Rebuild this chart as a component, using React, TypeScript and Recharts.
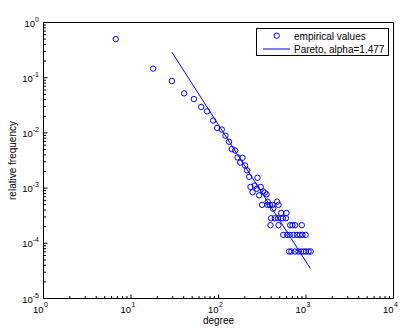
import React from "react";
import {
  ScatterChart,
  Scatter,
  XAxis,
  YAxis,
  Legend,
  ReferenceArea,
} from "recharts";

// empirical histogram of degrees
const degrees = [
  6.7, 17.9, 29.3, 40.5, 52.3, 63.4, 74, 86.8, 96.4, 109, 120, 132, 142, 155,
  165, 188, 177, 201, 212, 224, 279, 260, 232, 304, 245, 274, 324, 338, 291,
  354, 315, 363, 386, 414, 485, 365, 468, 421, 520, 598, 400, 440, 480, 520,
  545, 590, 393, 485, 660, 700, 750, 895, 550, 610, 650, 720, 790, 850, 910,
  990, 640, 680, 750, 820, 880, 940, 1000, 1070, 1130,
];
const frequencies = [
  0.5, 0.146, 0.087, 0.052, 0.041, 0.0295, 0.0246, 0.0167, 0.0123, 0.0115,
  0.0089, 0.0069, 0.0051, 0.0048, 0.0036, 0.00355, 0.0029, 0.00257, 0.0021,
  0.0016, 0.00154, 0.00111, 0.00105, 0.00105, 0.00084, 0.00097, 0.00087,
  0.00083, 0.00074, 0.00077, 0.000497, 0.000497, 0.000497, 0.000497, 0.000497,
  0.000568, 0.000568, 0.000426, 0.000355, 0.000355, 0.000284, 0.000284,
  0.000284, 0.000284, 0.000284, 0.000284, 0.000213, 0.000213, 0.000213,
  0.000213, 0.000213, 0.000213, 0.000142, 0.000142, 0.000142, 0.000142,
  0.000142, 0.000142, 0.000142, 0.000142, 0.000071, 0.000071, 0.000071,
  0.000071, 0.000071, 0.000071, 0.000071, 0.000071, 0.000071,
];

// fitted Pareto line, alpha = 1.477
const paretoX = [29.3, 1125];
const paretoY = [0.291, 3.48e-5];

const xMajor = [1, 10, 100, 1000, 10000];
const yMajor = [1e-5, 1e-4, 1e-3, 1e-2, 1e-1, 1];

const empirical = degrees.map((x, i) => ({ x, y: frequencies[i] }));
const pareto = paretoX.map((x, i) => ({ x, y: paretoY[i] }));

// majors plus 2..9 minors between them
const withMinors = (majors: number[]) => {
  const out: number[] = [];
  majors.forEach((m, i) => {
    out.push(m);
    if (i < majors.length - 1) {
      for (let k = 2; k <= 9; k++) out.push(m * k);
    }
  });
  return out;
};
const xTicks = withMinors(xMajor);
const yTicks = withMinors(yMajor);

const BLUE = "#0000ff";
const FONT = "'Liberation Sans', Arial, sans-serif";

const isMajor = (v: number) => {
  const l = Math.log10(v);
  return Math.abs(l - Math.round(l)) < 1e-6;
};
const expOf = (v: number) => Math.round(Math.log10(v));

const BottomTick = (props: any) => {
  const { x, y, payload } = props;
  const major = isMajor(payload.value);
  return (
    <g>
      <line x1={x} x2={x} y1={y} y2={y - (major ? 4 : 2.5)} stroke="#000" />
      {major && (
        <g fontFamily={FONT} fill="#000">
          <text x={x} y={y + 14} textAnchor="end" fontSize={9.5}>
            10
          </text>
          <text x={x + 0.5} y={y + 8} textAnchor="start" fontSize={7}>
            {expOf(payload.value)}
          </text>
        </g>
      )}
    </g>
  );
};

const TopTick = (props: any) => {
  const { x, y, payload } = props;
  const major = isMajor(payload.value);
  return (
    <line x1={x} x2={x} y1={y} y2={y + (major ? 4 : 2.5)} stroke="#000" />
  );
};

const LeftTick = (props: any) => {
  const { x, y, payload } = props;
  const major = isMajor(payload.value);
  return (
    <g>
      <line x1={x} x2={x + (major ? 4 : 2.5)} y1={y} y2={y} stroke="#000" />
      {major && (
        <text
          x={x - 4.5}
          y={y + 4}
          textAnchor="end"
          fontFamily={FONT}
          fontSize={9.5}
          fill="#000"
        >
          <tspan>10</tspan>
          <tspan dy={-5} fontSize={7}>
            {String(expOf(payload.value))}
          </tspan>
        </text>
      )}
    </g>
  );
};

const RightTick = (props: any) => {
  const { x, y, payload } = props;
  const major = isMajor(payload.value);
  return (
    <line x1={x} x2={x - (major ? 4 : 2.5)} y1={y} y2={y} stroke="#000" />
  );
};

const Circle = (props: any) => (
  <circle cx={props.cx} cy={props.cy} r={2.7} fill="none" stroke={BLUE} />
);

const LegendBox = () => (
  <svg width={133} height={28} style={{ display: "block" }}>
    <rect x={0.5} y={0.5} width={132} height={27} fill="#fff" stroke="#000" />
    <circle cx={20.7} cy={7.7} r={2.7} fill="none" stroke={BLUE} />
    <line x1={7} x2={34} y1={21} y2={21} stroke={BLUE} />
    <g fontFamily={FONT} fontSize={10} fill="#000">
      <text x={38} y={12}>
        empirical values
      </text>
      <text x={38} y={24.5}>
        Pareto, alpha=1.477
      </text>
    </g>
  </svg>
);

const labelStyle = { fontSize: 10, fill: "#000", fontFamily: FONT };

export default function App() {
  return (
    <div style={{ position: "absolute", left: 0, top: 0, background: "#fff" }}>
      <ScatterChart
        width={402}
        height={328}
        margin={{ top: 22.5, right: 8.5, bottom: 0, left: 0 }}
      >
        <XAxis
          xAxisId="bottom"
          dataKey="x"
          type="number"
          scale="log"
          domain={[1, 10000]}
          allowDataOverflow
          ticks={xTicks}
          interval={0}
          height={29.5}
          tickSize={0}
          tickMargin={0}
          tickLine={false}
          tick={<BottomTick />}
          axisLine={false}
          label={{
            value: "degree",
            position: "insideBottom",
            offset: 4,
            style: labelStyle,
          }}
        />
        <XAxis
          xAxisId="top"
          orientation="top"
          dataKey="x"
          type="number"
          scale="log"
          domain={[1, 10000]}
          allowDataOverflow
          ticks={xTicks}
          interval={0}
          height={0}
          tickSize={0}
          tickMargin={0}
          tickLine={false}
          tick={<TopTick />}
          axisLine={false}
          label={{
            value: "Histogram of degrees (iWiW)",
            position: "top",
            offset: 7,
            style: labelStyle,
          }}
        />
        <YAxis
          yAxisId="left"
          dataKey="y"
          type="number"
          scale="log"
          domain={[1e-5, 1]}
          allowDataOverflow
          ticks={yTicks}
          interval={0}
          width={43.5}
          tickSize={0}
          tickMargin={0}
          tickLine={false}
          tick={<LeftTick />}
          axisLine={false}
          label={{
            value: "relative frequency",
            angle: -90,
            position: "insideLeft",
            offset: 12,
            style: { ...labelStyle, textAnchor: "middle" },
          }}
        />
        <YAxis
          yAxisId="right"
          orientation="right"
          dataKey="y"
          type="number"
          scale="log"
          domain={[1e-5, 1]}
          allowDataOverflow
          ticks={yTicks}
          interval={0}
          width={0}
          tickSize={0}
          tickMargin={0}
          tickLine={false}
          tick={<RightTick />}
          axisLine={false}
        />
        <ReferenceArea
          xAxisId="bottom"
          yAxisId="left"
          x1={1}
          x2={10000}
          y1={1e-5}
          y2={1}
          fill="none"
          fillOpacity={0}
          stroke="#000"
          strokeWidth={1}
          ifOverflow="visible"
        />
        <Legend
          layout="horizontal"
          verticalAlign="middle"
          align="center"
          content={() => <LegendBox />}
          wrapperStyle={{ position: "absolute", left: 256, top: 28, width: 133, height: 28 }}
        />
        <Scatter
          name="empirical values"
          data={empirical}
          xAxisId="bottom"
          yAxisId="left"
          shape={<Circle />}
          isAnimationActive={false}
        />
        <Scatter
          name="Pareto, alpha=1.477"
          data={pareto}
          xAxisId="bottom"
          yAxisId="left"
          line={{ stroke: BLUE, strokeWidth: 1 }}
          shape={() => <g />}
          isAnimationActive={false}
        />
      </ScatterChart>
    </div>
  );
}
